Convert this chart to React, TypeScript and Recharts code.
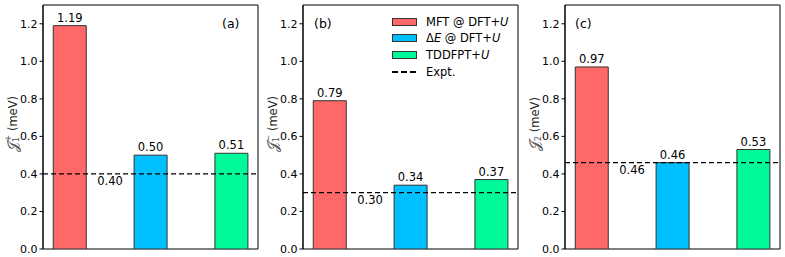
import React from "react";
import {
  BarChart,
  Bar,
  XAxis,
  YAxis,
  Cell,
  LabelList,
  ReferenceLine,
  ReferenceDot,
  ReferenceArea,
} from "recharts";

const methods = ["MFT @ DFT+U", "ΔE @ DFT+U", "TDDFPT+U"];
const positions = [0, 1, 2];
const jPlus = [1.19, 0.5, 0.51];
const jMinus = [0.79, 0.34, 0.37];
const jTwo = [0.97, 0.46, 0.53];
const exptValues = [0.4, 0.3, 0.46];
const panelTags = ["(a)", "(b)", "(c)"];
const yTicks = [0, 0.2, 0.4, 0.6, 0.8, 1.0, 1.2];

const COLORS = ["#ff6868", "#00bfff", "#00fa9a"];
const FONT = "DejaVu Sans, sans-serif";

function buildRows(values: number[]) {
  return positions.map((p, i) => ({ pos: p, name: methods[i], value: values[i] }));
}

function YLabel({ viewBox, sub, sup }: any) {
  const cx = viewBox.x + 13;
  const cy = viewBox.y + viewBox.height / 2 - 3;
  return (
    <text
      x={cx}
      y={cy}
      transform={`rotate(-90 ${cx} ${cy})`}
      textAnchor="middle"
      dominantBaseline="central"
      fontFamily={FONT}
      fontSize={11.5}
      fill="#222"
    >
      <tspan fontSize={15} fill="#555">𝒥</tspan>
      <tspan fontSize={8} dy={3} fill="#555">{sub}</tspan>
      {sup ? (
        <tspan fontSize={8} dx={-4.5} dy={-8.5} fill="#555">{sup}</tspan>
      ) : null}
      <tspan dy={sup ? 5.5 : -3}>{" (meV)"}</tspan>
    </text>
  );
}

function Panel({
  left,
  values,
  expt,
  tag,
  tagX,
  sub,
  sup,
}: {
  left: number;
  values: number[];
  expt: number;
  tag: string;
  tagX: number;
  sub: string;
  sup?: string;
}) {
  const rows = buildRows(values);
  return (
    <div style={{ position: "absolute", left, top: 0 }}>
      <BarChart
        width={262}
        height={257}
        data={rows}
        margin={{ top: 5, right: 4, left: 0, bottom: 8 }}
        style={{ fontFamily: FONT }}
      >
        <XAxis
          dataKey="pos"
          type="number"
          domain={[-0.33, 2.33]}
          ticks={positions}
          hide
        />
        <YAxis
          width={43}
          domain={[0, 1.3]}
          ticks={yTicks}
          tickFormatter={(v: number) => v.toFixed(1)}
          tick={{ fontSize: 11, fill: "#000", fontFamily: FONT }}
          tickSize={3.5}
          tickLine={{ stroke: "#000" }}
          axisLine={{ stroke: "#000" }}
          allowDataOverflow
          label={{ content: (p: any) => <YLabel {...p} sub={sub} sup={sup} /> }}
        />
        <ReferenceArea
          x1={-0.33}
          x2={2.33}
          y1={0}
          y2={1.3}
          fill="none"
          stroke="#000"
          strokeWidth={1}
          ifOverflow="extendDomain"
        />
        <Bar dataKey="value" barSize={33} isAnimationActive={false} stroke="#333" strokeWidth={1}>
          {rows.map((_, i) => (
            <Cell key={i} fill={COLORS[i]} />
          ))}
          <LabelList
            dataKey="value"
            position="top"
            offset={4}
            formatter={(v: any) => Number(v).toFixed(2)}
            style={{ fontSize: 11.5, fill: "#000", fontFamily: FONT }}
          />
        </Bar>
        <ReferenceLine y={expt} stroke="#000" strokeWidth={1.2} strokeDasharray="5 3" />
        <ReferenceDot
          x={0.5}
          y={expt}
          r={0}
          fill="none"
          stroke="none"
          label={{
            value: expt.toFixed(2),
            position: "bottom",
            offset: 3,
            style: { fontSize: 11.5, fill: "#000", fontFamily: FONT },
          }}
        />
      </BarChart>
      <div
        style={{
          position: "absolute",
          left: tagX,
          top: 16,
          fontFamily: FONT,
          fontSize: 12.5,
          lineHeight: "16px",
        }}
      >
        {tag}
      </div>
    </div>
  );
}

function LegendBox() {
  const rowStyle: React.CSSProperties = {
    position: "absolute",
    left: 0,
    display: "flex",
    alignItems: "center",
    height: 17,
    whiteSpace: "nowrap",
  };
  const patch = (c: string): React.CSSProperties => ({
    width: 23,
    height: 6,
    background: c,
    border: "1px solid #333",
    marginRight: 9,
    flex: "none",
  });
  return (
    <div
      style={{
        position: "absolute",
        left: 392,
        top: 13,
        fontFamily: FONT,
        fontSize: 11.5,
        color: "#000",
      }}
    >
      <div style={{ ...rowStyle, top: 0 }}>
        <span style={patch(COLORS[0])} />
        <span>
          MFT @ DFT+<i>U</i>
        </span>
      </div>
      <div style={{ ...rowStyle, top: 16.5 }}>
        <span style={patch(COLORS[1])} />
        <span>
          Δ<i>E</i> @ DFT+<i>U</i>
        </span>
      </div>
      <div style={{ ...rowStyle, top: 33 }}>
        <span style={patch(COLORS[2])} />
        <span>
          TDDFPT+<i>U</i>
        </span>
      </div>
      <div style={{ ...rowStyle, top: 50 }}>
        <svg width={25} height={4} style={{ marginRight: 9, flex: "none" }}>
          <line x1={0} y1={2} x2={25} y2={2} stroke="#000" strokeWidth={1.8} strokeDasharray="6 3" />
        </svg>
        <span>Expt.</span>
      </div>
    </div>
  );
}

export default function App() {
  return (
    <div
      style={{
        position: "absolute",
        left: 0,
        top: 0,
        width: 785,
        height: 257,
        background: "#fff",
        overflow: "hidden",
      }}
    >
      <Panel left={0} values={jPlus} expt={exptValues[0]} tag={panelTags[0]} tagX={222} sub="1" sup="+" />
      <Panel left={260} values={jMinus} expt={exptValues[1]} tag={panelTags[1]} tagX={54} sub="1" sup="−" />
      <Panel left={522} values={jTwo} expt={exptValues[2]} tag={panelTags[2]} tagX={53} sub="2" />
      <LegendBox />
    </div>
  );
}
